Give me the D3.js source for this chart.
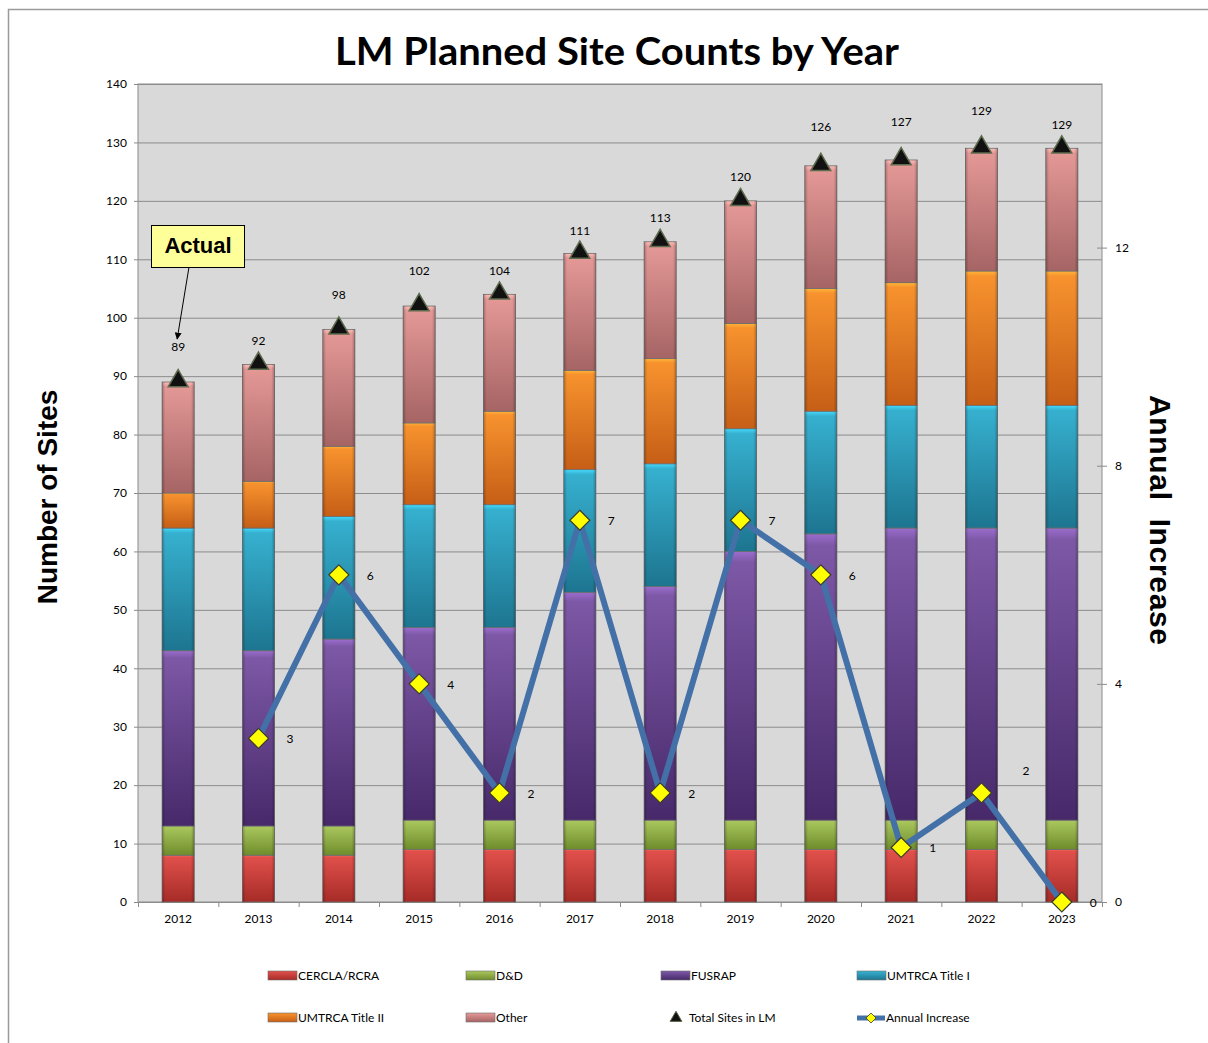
<!DOCTYPE html>
<html>
<head>
<meta charset="utf-8">
<script src="https://cdn.jsdelivr.net/npm/d3@7"></script>
<style>
  body { margin: 0; background: #fff; }
  text { font-family: Lato, "Open Sans", sans-serif; }
</style>
</head>
<body>
<script>
// chart data
var years = ["2012","2013","2014","2015","2016","2017","2018","2019","2020","2021","2022","2023"];
var cercla   = [8, 8, 8, 9, 9, 9, 9, 9, 9, 9, 9, 9];
var dd       = [5, 5, 5, 5, 5, 5, 5, 5, 5, 5, 5, 5];
var fusrap   = [30, 30, 32, 33, 33, 39, 40, 46, 49, 50, 50, 50];
var umtrca1  = [21, 21, 21, 21, 21, 21, 21, 21, 21, 21, 21, 21];
var umtrca2  = [6, 8, 12, 14, 16, 17, 18, 18, 21, 21, 23, 23];
var other    = [19, 20, 20, 20, 20, 20, 20, 21, 21, 21, 21, 21];
var totals   = [89, 92, 98, 102, 104, 111, 113, 120, 126, 127, 129, 129];
var increase = [null, 3, 6, 4, 2, 7, 2, 7, 6, 1, 2, 0];
var leftTicks  = [0, 10, 20, 30, 40, 50, 60, 70, 80, 90, 100, 110, 120, 130, 140];
var rightTicks = [0, 4, 8, 12];
var seriesNames = ["CERCLA/RCRA", "D&D", "FUSRAP", "UMTRCA Title I", "UMTRCA Title II", "Other"];

// the total labels were placed by hand in the original, so their lift differs
var totalLabelLift = [31, 19, 30, 31, 19, 18, 20, 20, 35, 34, 33, 19];

var seriesValues = [cercla, dd, fusrap, umtrca1, umtrca2, other];
// light (top) / dark (bottom) colour of each stacked series
var seriesColors = [
  ["#e0504b", "#a62b27"],
  ["#a8c65c", "#6f8c2c"],
  ["#7d58a6", "#47296a"],
  ["#36b0cf", "#1d7590"],
  ["#f7922e", "#c65e16"],
  ["#e39896", "#a66464"]
];

var margin = {top: 84, right: 106, bottom: 141, left: 138},
    width = 1208 - margin.left - margin.right,
    height = 1043 - margin.top - margin.bottom;

var svg0 = d3.select("body").append("svg")
  .attr("width", 1208)
  .attr("height", 1043);

// gradients for the bevelled bars
var defs = svg0.append("defs");
seriesColors.forEach(function(c, i) {
  var g = defs.append("linearGradient").attr("id", "grad" + i)
    .attr("x1", 0).attr("y1", 0).attr("x2", 0).attr("y2", 1);
  g.append("stop").attr("offset", "0%").attr("stop-color", d3.color(c[0]).brighter(0.6));
  g.append("stop").attr("offset", "4%").attr("stop-color", c[0]);
  g.append("stop").attr("offset", "100%").attr("stop-color", c[1]);
});
var side = defs.append("linearGradient").attr("id", "sideShade")
  .attr("x1", 0).attr("y1", 0).attr("x2", 1).attr("y2", 0);
side.append("stop").attr("offset", "0%").attr("stop-color", "#000").attr("stop-opacity", 0.25);
side.append("stop").attr("offset", "10%").attr("stop-color", "#000").attr("stop-opacity", 0);
side.append("stop").attr("offset", "90%").attr("stop-color", "#000").attr("stop-opacity", 0);
side.append("stop").attr("offset", "100%").attr("stop-color", "#000").attr("stop-opacity", 0.25);
defs.append("marker").attr("id", "arrow")
  .attr("viewBox", "0 0 10 10").attr("refX", 9).attr("refY", 5)
  .attr("markerWidth", 7).attr("markerHeight", 7).attr("orient", "auto")
  .append("path").attr("d", "M0,0 L10,5 L0,10 z").attr("fill", "#000");

// outer chart border (only top and left show)
svg0.append("path")
  .attr("d", "M8.5,1043 L8.5,9.5 L1208,9.5")
  .attr("fill", "none").attr("stroke", "#9a9a9a").attr("stroke-width", 1.5);

var svg = svg0.append("g")
  .attr("transform", "translate(" + margin.left + "," + margin.top + ")");

// scales
var x = d3.scaleBand().domain(years).range([0, width]).paddingInner(0.6).paddingOuter(0.3);
var xb = d3.scaleBand().domain(years).range([0, width]);
var y = d3.scaleLinear().domain([0, 140]).range([height, 0]);
var y2 = d3.scaleLinear().domain([0, 15]).range([height, 0]);

// plot area
svg.append("rect")
  .attr("width", width).attr("height", height)
  .attr("fill", "#d9d9d9");

svg.append("g").selectAll("line").data(leftTicks).enter().append("line")
  .attr("x1", 0).attr("x2", width)
  .attr("y1", function(d) { return y(d) + 0.5; })
  .attr("y2", function(d) { return y(d) + 0.5; })
  .attr("stroke", "#8c8c8c");

svg.append("rect")
  .attr("width", width).attr("height", height)
  .attr("fill", "none").attr("stroke", "#8c8c8c");

// stacked bars
var rows = years.map(function(yr, i) {
  var r = {year: yr};
  seriesNames.forEach(function(n, j) { r[n] = seriesValues[j][i]; });
  return r;
});
var stack = d3.stack().keys(seriesNames)(rows);

var layers = svg.append("g").selectAll("g").data(stack).enter().append("g");
layers.selectAll("rect.seg").data(function(d) { return d; }).enter().append("rect")
  .attr("class", "seg")
  .attr("x", function(d) { return x(d.data.year); })
  .attr("y", function(d) { return y(d[1]); })
  .attr("width", x.bandwidth())
  .attr("height", function(d) { return y(d[0]) - y(d[1]); })
  .attr("fill", function(d) { return "url(#grad" + stack.indexOf(d3.select(this.parentNode).datum()) + ")"; })
  .attr("stroke", "#6e6e6e").attr("stroke-width", 0.8);
layers.selectAll("rect.shade").data(function(d) { return d; }).enter().append("rect")
  .attr("class", "shade")
  .attr("x", function(d) { return x(d.data.year); })
  .attr("y", function(d) { return y(d[1]); })
  .attr("width", x.bandwidth())
  .attr("height", function(d) { return y(d[0]) - y(d[1]); })
  .attr("fill", "url(#sideShade)");

// left axis
var yAxis = svg.append("g")
  .call(d3.axisLeft(y).tickValues(leftTicks).tickSize(4).tickPadding(7));
yAxis.select(".domain").remove();
yAxis.selectAll("line").attr("stroke", "#8c8c8c");
yAxis.selectAll("text").attr("font-size", 12).attr("fill", "#000")
  .style("font-family", "Lato, sans-serif");

// x axis with ticks between the categories
var xAxis = svg.append("g").attr("transform", "translate(0," + height + ")");
xAxis.selectAll("line").data(d3.range(years.length + 1)).enter().append("line")
  .attr("x1", function(d) { return d * xb.bandwidth() + 0.5; })
  .attr("x2", function(d) { return d * xb.bandwidth() + 0.5; })
  .attr("y1", 0).attr("y2", 5)
  .attr("stroke", "#8c8c8c");
xAxis.selectAll("text").data(years).enter().append("text")
  .attr("x", function(d) { return x(d) + x.bandwidth() / 2; })
  .attr("y", 21)
  .attr("text-anchor", "middle")
  .attr("font-size", 12)
  .text(function(d) { return d; });

// right axis
var rAxis = svg.append("g").attr("transform", "translate(" + width + ",0)");
rAxis.selectAll("line").data(rightTicks).enter().append("line")
  .attr("x1", -5).attr("x2", 5)
  .attr("y1", function(d) { return y2(d) + 0.5; })
  .attr("y2", function(d) { return y2(d) + 0.5; })
  .attr("stroke", "#8c8c8c");
rAxis.selectAll("text").data(rightTicks).enter().append("text")
  .attr("x", 13)
  .attr("y", function(d) { return y2(d) + 4; })
  .attr("font-size", 12)
  .text(function(d) { return d; });

// annual increase line
var pts = years.map(function(yr, i) { return {year: yr, v: increase[i]}; })
  .filter(function(d) { return d.v !== null; });
var line = d3.line()
  .x(function(d) { return x(d.year) + x.bandwidth() / 2; })
  .y(function(d) { return y2(d.v); });
svg.append("path").datum(pts)
  .attr("d", line)
  .attr("fill", "none")
  .attr("stroke", "#4470a8")
  .attr("stroke-width", 6)
  .attr("stroke-linejoin", "round");

var diamond = "M0,-10 L10,0 L0,10 L-10,0 Z";
svg.append("g").selectAll("path").data(pts).enter().append("path")
  .attr("d", diamond)
  .attr("transform", function(d) { return "translate(" + (x(d.year) + x.bandwidth() / 2) + "," + y2(d.v) + ")"; })
  .attr("fill", "#ffff00")
  .attr("stroke", "#3b3b2e").attr("stroke-width", 1.2);

svg.append("g").selectAll("text").data(pts).enter().append("text")
  .attr("x", function(d) { return x(d.year) + x.bandwidth() / 2 + (d.year === "2022" ? 41 : 28); })
  .attr("y", function(d) { return y2(d.v) + (d.year === "2022" ? -18 : 5); })
  .attr("font-size", 12)
  .text(function(d) { return d.v; });

// total sites triangles
var tri = d3.symbol().type(d3.symbolTriangle).size(170);
svg.append("g").selectAll("path").data(totals).enter().append("path")
  .attr("d", tri)
  .attr("transform", function(d, i) { return "translate(" + (x(years[i]) + x.bandwidth() / 2) + "," + (y(d) - 1) + ")"; })
  .attr("fill", "#111")
  .attr("stroke", "#5d6b4e").attr("stroke-width", 1.5);

svg.append("g").selectAll("text").data(totals).enter().append("text")
  .attr("x", function(d, i) { return x(years[i]) + x.bandwidth() / 2; })
  .attr("y", function(d, i) { return y(d) - totalLabelLift[i]; })
  .attr("text-anchor", "middle")
  .attr("font-size", 12)
  .text(function(d) { return d; });

// "Actual" callout pointing at the 2012 label
var cx = x("2012") + x.bandwidth() / 2;
svg.append("line")
  .attr("x1", 51).attr("y1", 183)
  .attr("x2", cx - 1).attr("y2", y(totals[0]) - 43)
  .attr("stroke", "#000").attr("stroke-width", 1)
  .attr("marker-end", "url(#arrow)");
svg.append("rect")
  .attr("x", 13.5).attr("y", 141.5).attr("width", 93).attr("height", 42)
  .attr("fill", "#ffff99").attr("stroke", "#000").attr("stroke-width", 1);
svg.append("text")
  .attr("x", 60).attr("y", 169)
  .attr("text-anchor", "middle")
  .attr("font-size", 22).attr("font-weight", "bold")
  .style("font-family", "'Liberation Sans', Arial, sans-serif")
  .text("Actual");

// title and axis titles
svg0.append("text")
  .attr("x", 617).attr("y", 65)
  .attr("text-anchor", "middle")
  .attr("font-size", 38).attr("font-weight", "bold")
  .attr("textLength", 564).attr("lengthAdjust", "spacingAndGlyphs")
  .text("LM Planned Site Counts by Year");

svg0.append("text")
  .attr("transform", "translate(57,497) rotate(-90)")
  .attr("text-anchor", "middle")
  .attr("font-size", 28).attr("font-weight", "bold")
  .style("font-family", "'Liberation Sans', Arial, sans-serif")
  .text("Number of Sites");

svg0.append("text")
  .attr("transform", "translate(1150,520) rotate(90)")
  .attr("text-anchor", "middle")
  .attr("font-size", 30).attr("font-weight", "bold")
  .attr("textLength", 250).attr("lengthAdjust", "spacing")
  .style("font-family", "'Liberation Sans Narrow', 'Liberation Sans', Arial, sans-serif")
  .style("white-space", "pre")
  .text("Annual  Increase");

// legend
var legCols = [268, 466, 661, 857];
var legend = svg0.append("g");
seriesNames.forEach(function(n, i) {
  var lx = legCols[i % 4], ly = i < 4 ? 976 : 1018;
  legend.append("rect")
    .attr("x", lx).attr("y", ly - 5).attr("width", 29).attr("height", 9)
    .attr("fill", "url(#grad" + i + ")").attr("stroke", "#6e6e6e").attr("stroke-width", 0.6);
  legend.append("text")
    .attr("x", lx + 30).attr("y", ly + 4)
    .attr("font-size", 12)
    .text(n);
});
legend.append("path")
  .attr("d", d3.symbol().type(d3.symbolTriangle).size(60))
  .attr("transform", "translate(676,1018)")
  .attr("fill", "#111").attr("stroke", "#5d6b4e").attr("stroke-width", 1);
legend.append("text")
  .attr("x", 689).attr("y", 1022)
  .attr("font-size", 12)
  .text("Total Sites in LM");
legend.append("line")
  .attr("x1", 857).attr("x2", 885).attr("y1", 1018).attr("y2", 1018)
  .attr("stroke", "#4470a8").attr("stroke-width", 5);
legend.append("path")
  .attr("d", "M0,-5 L5,0 L0,5 L-5,0 Z")
  .attr("transform", "translate(871,1018)")
  .attr("fill", "#ffff00").attr("stroke", "#3b3b2e").attr("stroke-width", 0.8);
legend.append("text")
  .attr("x", 886).attr("y", 1022)
  .attr("font-size", 12)
  .text("Annual Increase");
</script>
</body>
</html>
